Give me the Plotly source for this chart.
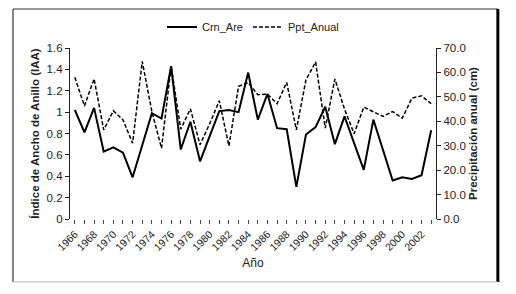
import plotly.graph_objects as go

years = list(range(1966, 2004))
crn_are = [1.02, 0.81, 1.04, 0.63, 0.67, 0.62, 0.39, 0.69, 0.99, 0.94,
           1.43, 0.65, 0.91, 0.54, 0.77, 1.01, 1.02, 1.00, 1.37, 0.93,
           1.17, 0.85, 0.84, 0.30, 0.79, 0.86, 1.05, 0.70, 0.96, 0.70,
           0.46, 0.93, 0.65, 0.36, 0.39, 0.375, 0.41, 0.83]
ppt_anual = [58.0, 46.3, 57.4, 36.5, 44.3, 40.6, 31.0, 64.5, 44.0, 29.0,
             62.5, 36.8, 45.1, 30.4, 39.0, 48.4, 29.9, 54.3, 55.8, 50.9,
             51.1, 47.2, 55.9, 36.5, 57.0, 64.3, 37.2, 57.3, 45.0, 34.9,
             45.8, 44.0, 42.0, 44.0, 41.3, 49.5, 50.4, 47.2]

font = "Liberation Sans, Arial, sans-serif"

fig = go.Figure()
fig.add_trace(go.Scatter(x=years, y=crn_are, name="Crn_Are", mode="lines",
                         line=dict(color="black", width=2)))
fig.add_trace(go.Scatter(x=years, y=ppt_anual, name="Ppt_Anual", mode="lines",
                         yaxis="y2", line=dict(color="black", width=1.5, dash="4px,2px")))

# page body has an 8px margin, so the figure is laid out 8px smaller
fig.update_layout(
    width=508, height=286,
    margin=dict(l=62, r=80, t=40, b=75, autoexpand=False),
    paper_bgcolor="white", plot_bgcolor="white",
    font=dict(family=font, size=11, color="#222"),
    showlegend=True,
    legend=dict(orientation="h", x=0.5, xanchor="center", y=1.123, yanchor="middle",
                font=dict(size=11, color="#222"), bgcolor="rgba(0,0,0,0)"),
    xaxis=dict(range=[1965.5, 2003.5], tickmode="array", automargin=False,
               tickvals=list(range(1966, 2003, 2)),
               ticktext=[str(y) for y in range(1966, 2003, 2)],
               tickangle=-45, ticks="outside", ticklen=4, tickcolor="#444",
               minor=dict(dtick=1, tick0=1966, ticks="outside", ticklen=4, tickcolor="#444"),
               showline=False, showgrid=False, zeroline=False,
               title=dict(text="Año", font=dict(size=12, color="#222"), standoff=6),
               tickfont=dict(size=10.5)),
    yaxis=dict(range=[0, 1.6], automargin=False,
               tickvals=[0, 0.2, 0.4, 0.6, 0.8, 1, 1.2, 1.4, 1.6],
               ticktext=["0", "0.2", "0.4", "0.6", "0.8", "1", "1.2", "1.4", "1.6"],
               showline=True, linecolor="#222", linewidth=1.2,
               ticks="outside", ticklen=4, tickcolor="#222",
               showgrid=False, zeroline=False,
               title=dict(text="<b>Índice de Ancho de Anillo (IAA)</b>",
                          font=dict(size=11.5, color="#222"), standoff=4),
               tickfont=dict(size=11.5)),
    yaxis2=dict(range=[0, 70], overlaying="y", side="right", automargin=False,
                tickvals=[0, 10, 20, 30, 40, 50, 60, 70],
                ticktext=["0.0", "10.0", "20.0", "30.0", "40.0", "50.0", "60.0", "70.0"],
                showline=True, linecolor="#222", linewidth=1.2,
                ticks="outside", ticklen=4, tickcolor="#222",
                showgrid=False, zeroline=False,
                title=dict(text="<b>Precipitación anual (cm)</b>",
                           font=dict(size=11.5, color="#222"), standoff=4),
                tickfont=dict(size=11.5)),
)

# outer frame
fig.add_shape(type="line", xref="paper", yref="paper", x0=-0.1557, x1=-0.1557, y0=1.228, y1=-0.368,
              line=dict(color="#333", width=1.2))
fig.add_shape(type="line", xref="paper", yref="paper", x0=-0.1557, x1=1.169, y0=1.228, y1=1.228,
              line=dict(color="#333", width=1.2))
fig.add_shape(type="line", xref="paper", yref="paper", x0=1.169, x1=1.169, y0=1.228, y1=-0.368,
              line=dict(color="black", width=3))
fig.add_shape(type="line", xref="paper", yref="paper", x0=-0.1557, x1=1.169, y0=-0.368, y1=-0.368,
              line=dict(color="#bbb", width=1))

fig.write_html("out.html")
